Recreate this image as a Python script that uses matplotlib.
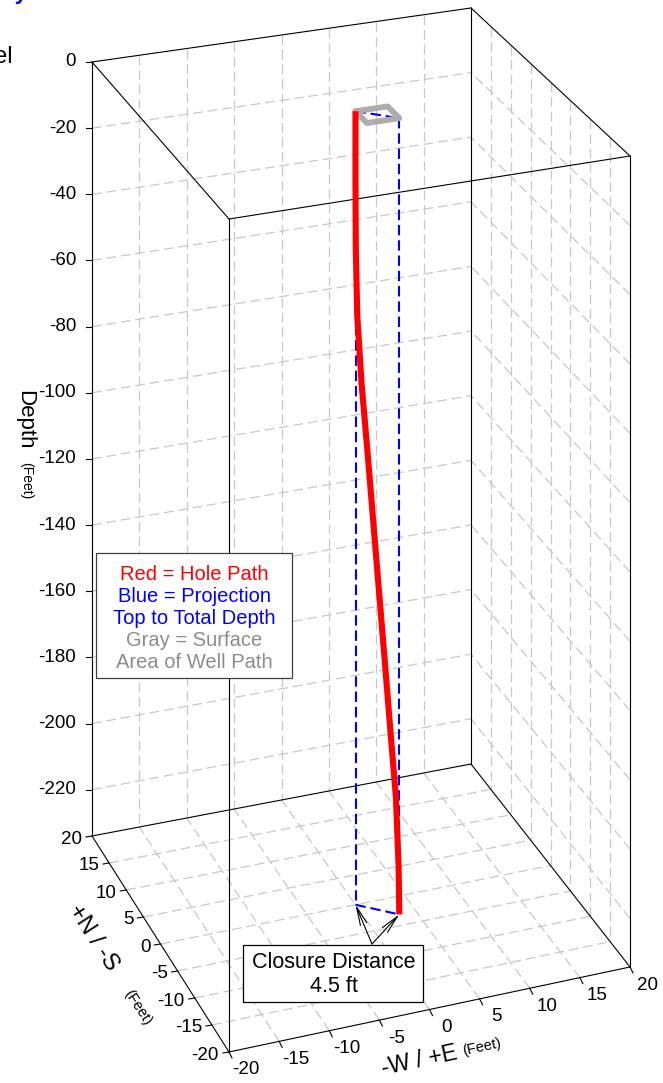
#!/usr/bin/env python3
"""
3D well path chart (hole path, projection, surface area) drawn in a box view.
"""

import numpy as np
import matplotlib.pyplot as plt
from matplotlib.patches import Rectangle

plt.rcParams['font.family'] = ['Liberation Sans', 'DejaVu Sans']
plt.rcParams['lines.scale_dashes'] = False

# survey stations (feet)
depth = [0, -20, -40, -60, -80, -100, -120, -140, -160, -180, -200, -220, -234]
east = [0, 0, 0.02, 0.13, 0.46, 0.91, 1.34, 1.77, 2.20, 2.62, 3.05, 3.25, 3.30]
north = [0, 0, -0.02, -0.12, -0.43, -0.86, -1.26, -1.66, -2.07, -2.46, -2.87, -3.05, -3.10]

closure_ft = 4.5

# axes
e_lim = (-20, 20)
n_lim = (-20, 20)
d_lim = (0, -234)
depth_ticks = list(range(0, -221, -20))
en_ticks = list(range(-20, 21, 5))
en_grid = list(range(-15, 16, 5))

# screen position (px) of the box corners: key = (east side, north side, bottom)
corners = {
    (0, 1, 0): (92, 62), (1, 1, 0): (471, 8), (1, 0, 0): (630, 156), (0, 0, 0): (229, 219),
    (0, 1, 1): (92, 836), (1, 1, 1): (471, 764), (1, 0, 1): (630, 967), (0, 0, 1): (229, 1052),
}


def project(e, n, d):
    e, n, d = np.broadcast_arrays(np.asarray(e, float), np.asarray(n, float), np.asarray(d, float))
    u = (e - e_lim[0]) / (e_lim[1] - e_lim[0])
    w = (n - n_lim[0]) / (n_lim[1] - n_lim[0])
    t = (d - d_lim[0]) / (d_lim[1] - d_lim[0])
    x = np.zeros(u.shape)
    y = np.zeros(u.shape)
    for (i, j, k), (px, py) in corners.items():
        wt = (u if i else 1 - u) * (w if j else 1 - w) * (t if k else 1 - t)
        x += wt * px
        y += wt * py
    return x, y


def line3d(ax, e, n, d, steps=2, **kw):
    e = np.linspace(e[0], e[1], steps)
    n = np.linspace(n[0], n[1], steps)
    d = np.linspace(d[0], d[1], steps)
    x, y = project(e, n, d)
    ax.plot(x, y, **kw)


def main():
    fig = plt.figure(figsize=(6.63, 10.83), dpi=100)
    ax = fig.add_axes([0, 0, 1, 1])
    ax.set_xlim(0, 663)
    ax.set_ylim(1083, 0)
    ax.axis('off')

    grid_kw = dict(color='#c8c8c8', lw=0.9, dashes=(7, 3.5))
    e0, e1 = e_lim
    n0, n1 = n_lim
    top, bot = d_lim

    # back wall (north side)
    for v in en_grid:
        line3d(ax, (v, v), (n1, n1), (top, bot), **grid_kw)
    for dv in depth_ticks[1:]:
        line3d(ax, (e0, e1), (n1, n1), (dv, dv), **grid_kw)
    # right wall (east side)
    for v in en_grid:
        line3d(ax, (e1, e1), (v, v), (top, bot), **grid_kw)
    for dv in depth_ticks[1:]:
        line3d(ax, (e1, e1), (n0, n1), (dv, dv), **grid_kw)
    # floor
    for v in en_grid:
        line3d(ax, (v, v), (n0, n1), (bot, bot), **grid_kw)
        line3d(ax, (e0, e1), (v, v), (bot, bot), **grid_kw)

    # box frame
    edge_kw = dict(color='black', lw=0.8)
    for dv in (top, bot):
        line3d(ax, (e0, e1), (n1, n1), (dv, dv), **edge_kw)
        line3d(ax, (e0, e1), (n0, n0), (dv, dv), **edge_kw)
        line3d(ax, (e0, e0), (n0, n1), (dv, dv), **edge_kw)
        line3d(ax, (e1, e1), (n0, n1), (dv, dv), **edge_kw)
    for ev in (e0, e1):
        for nv in (n0, n1):
            line3d(ax, (ev, ev), (nv, nv), (top, bot), **edge_kw)

    # depth ticks on back-left edge
    for dv in depth_ticks:
        x, y = project(e0, n1, dv)
        ax.plot([x - 6, x], [y, y], color='black', lw=0.8)
        ax.text(x - 16, y, str(dv), ha='right', va='center', fontsize=13.5)
    ax.text(25, 420, 'Depth', rotation=-90, ha='center', va='center', fontsize=16)
    ax.text(26, 481, '(Feet)', rotation=-90, ha='center', va='center', fontsize=10)

    # N/S ticks on the left floor edge
    for v in en_ticks:
        x, y = project(e0, v, bot)
        ax.plot([x - 6, x], [y + 1, y], color='black', lw=0.8)
        ax.text(x - 10, y + 3, str(v), ha='right', va='center', fontsize=13.5)
    ax.text(93, 938, '+N / -S', rotation=-57, rotation_mode='anchor',
            ha='center', va='center', fontsize=17)
    ax.text(138, 1008, '(Feet)', rotation=-57, rotation_mode='anchor',
            ha='center', va='center', fontsize=10.5)

    # W/E ticks on the front floor edge
    for v in en_ticks:
        x, y = project(v, n0, bot)
        ax.plot([x, x + 3], [y, y + 6], color='black', lw=0.8)
        ax.text(x + 17, y + 18, str(v), ha='center', va='center', fontsize=13.5)
    ax.text(419, 1061, '-W / +E', rotation=12, rotation_mode='anchor',
            ha='center', va='center', fontsize=16.5)
    ax.text(482, 1047, '(Feet)', rotation=12, rotation_mode='anchor',
            ha='center', va='center', fontsize=10.5)

    # blue projection, top to total depth
    e_end, n_end = east[-1], north[-1]
    blue_kw = dict(color='blue', lw=1.5, dashes=(7.5, 3.5))
    line3d(ax, (east[0], east[0]), (north[0], north[0]), (top, bot), **blue_kw)
    line3d(ax, (e_end, e_end), (n_end, n_end), (top, bot), **blue_kw)
    line3d(ax, (east[0], e_end), (north[0], n_end), (top, top), **blue_kw)
    line3d(ax, (east[0], e_end), (north[0], n_end), (bot, bot), **blue_kw)

    # gray surface area of the well path
    emin, emax = min(east), max(east)
    nmin, nmax = min(north), max(north)
    qx, qy = project([emin, emax, emax, emin, emin], [nmax, nmax, nmin, nmin, nmax], top)
    ax.plot(qx, qy, color='#adadad', lw=4.2, solid_joinstyle='round', solid_capstyle='round')

    # red hole path
    px, py = project(east, north, depth)
    ax.plot(px, py, color='red', lw=4.4, solid_capstyle='butt', solid_joinstyle='round')

    # legend box
    ax.add_patch(Rectangle((96, 553), 196, 125, facecolor='white', edgecolor='#404040', lw=0.9, zorder=5))
    legend_lines = [('Red = Hole Path', 'red'), ('Blue = Projection', 'blue'),
                    ('Top to Total Depth', 'blue'), ('Gray = Surface', '#8c8c8c'),
                    ('Area of Well Path', '#8c8c8c')]
    for i, (txt, col) in enumerate(legend_lines):
        ax.text(194, 575 + 22 * i, txt, color=col, ha='center', va='center', fontsize=14.5, zorder=6)

    # closure distance annotation
    ax.add_patch(Rectangle((243, 945), 180, 57, facecolor='white', edgecolor='black', lw=0.9, zorder=5))
    ax.text(334, 963, 'Closure Distance', ha='center', va='center', fontsize=15.5, zorder=6)
    ax.text(334, 986, f'{closure_ft} ft', ha='center', va='center', fontsize=15.5, zorder=6)
    for ev, nv in ((east[0], north[0]), (e_end, n_end)):
        tx, ty = project(ev, nv, bot)
        ax.annotate('', xy=(float(tx), float(ty)), xytext=(372, 944),
                    arrowprops=dict(arrowstyle='->,head_length=1.3,head_width=0.25',
                                    color='black', lw=0.8, shrinkA=0, shrinkB=0))

    # cut-off text from the page
    ax.text(13, 57, 'Level', ha='right', va='center', fontsize=17)
    ax.text(27, -1, 'Survey', ha='right', va='baseline', fontsize=16, color='blue', fontweight='bold')

    fig.savefig('out.png', dpi=100)


if __name__ == '__main__':
    main()
